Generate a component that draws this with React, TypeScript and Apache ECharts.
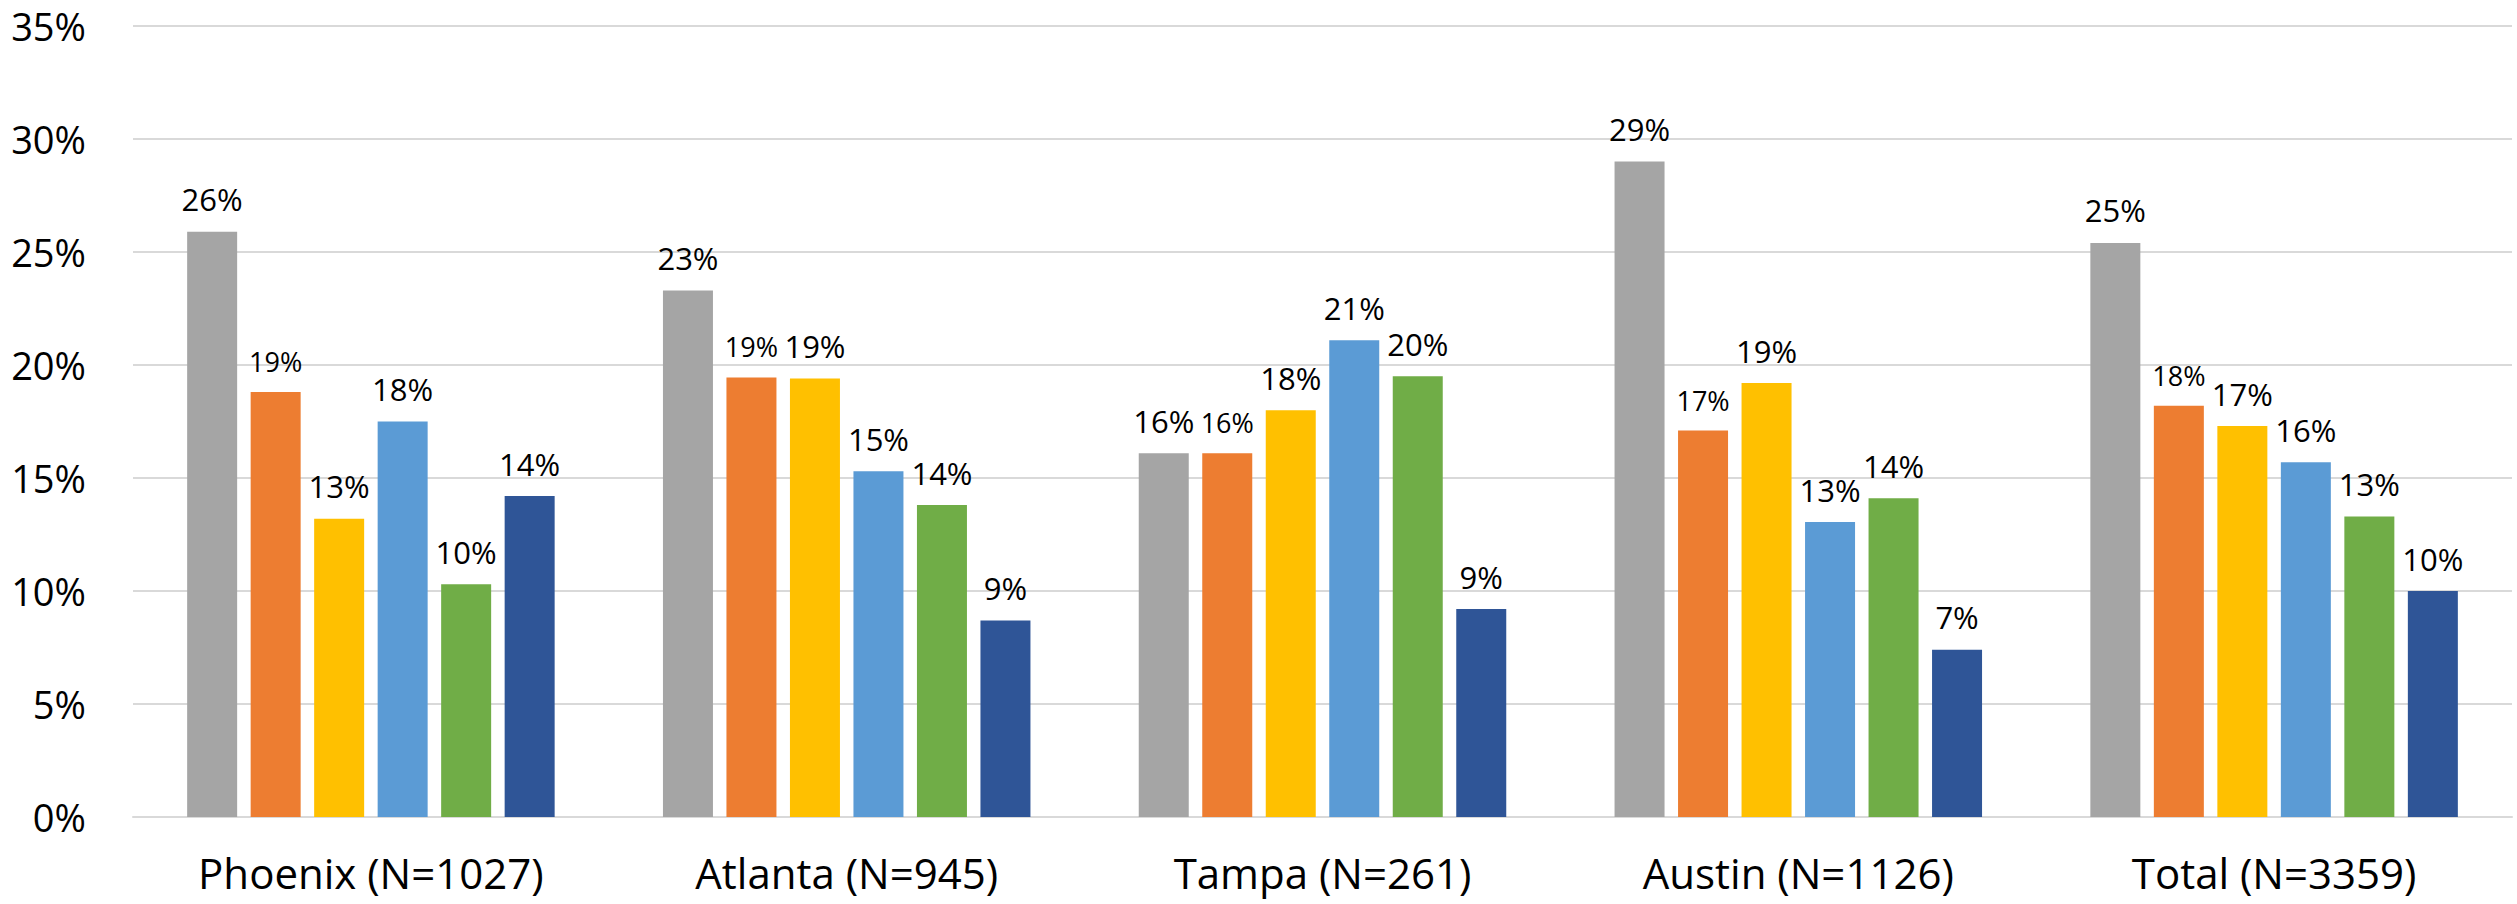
import React, { useEffect, useRef } from "react";
import * as echarts from "echarts";

const categories = [
  "Phoenix (N=1027)",
  "Atlanta (N=945)",
  "Tampa (N=261)",
  "Austin (N=1126)",
  "Total (N=3359)",
];

const seriesNames = ["Series 1", "Series 2", "Series 3", "Series 4", "Series 5", "Series 6"];
const seriesColors = ["#A5A5A5", "#ED7D31", "#FFC000", "#5B9BD5", "#70AD47", "#2F5597"];

const series1 = [25.9, 23.3, 16.1, 29.0, 25.4];
const series2 = [18.8, 19.45, 16.1, 17.1, 18.2];
const series3 = [13.2, 19.4, 18.0, 19.2, 17.3];
const series4 = [17.5, 15.3, 21.1, 13.05, 15.7];
const series5 = [10.3, 13.8, 19.5, 14.1, 13.3];
const series6 = [14.2, 8.7, 9.2, 7.4, 10.0];

const yTicks = { min: 0, max: 35, interval: 5 };

const allSeries = [series1, series2, series3, series4, series5, series6];
const FONT = "'Open Sans', 'Noto Sans', sans-serif";

export default function App() {
  const ref = useRef<HTMLDivElement>(null);
  useEffect(() => {
    if (!ref.current) return;
    const chart = echarts.init(ref.current, null, { renderer: "svg" });
    chart.setOption({
      animation: false,
      backgroundColor: "#ffffff",
      grid: { left: 133, right: 5, top: 26, bottom: 87, containLabel: false },
      xAxis: {
        type: "category",
        data: categories,
        axisLine: { show: true, lineStyle: { color: "#D9D9D9", width: 2 } },
        axisTick: { show: false },
        axisLabel: { color: "#000", fontSize: 42, fontFamily: FONT, margin: 34, interval: 0 },
      },
      yAxis: {
        type: "value",
        min: yTicks.min,
        max: yTicks.max,
        interval: yTicks.interval,
        axisLine: { show: false },
        axisTick: { show: false },
        splitLine: { show: true, lineStyle: { color: "#D9D9D9", width: 2 } },
        axisLabel: {
          color: "#000",
          fontSize: 38,
          lineHeight: 34,
          fontFamily: FONT,
          margin: 47,
          formatter: (v: number) => `${v}%`,
        },
      },
      series: allSeries.map((data, i) => ({
        name: seriesNames[i],
        type: "bar",
        data,
        barWidth: 50,
        barGap: "27%",
        itemStyle: { color: seriesColors[i] },
        label: {
          show: true,
          position: "top",
          distance: 17,
          color: "#000",
          fontFamily: FONT,
          fontSize: i === 1 ? 27 : 31,
          formatter: (p: any) => `${Math.round(p.value)}%`,
        },
      })),
    });
    return () => chart.dispose();
  }, []);
  return (
    <div
      ref={ref}
      style={{ position: "fixed", left: 0, top: 0, width: 2517, height: 904, background: "#fff" }}
    />
  );
}
